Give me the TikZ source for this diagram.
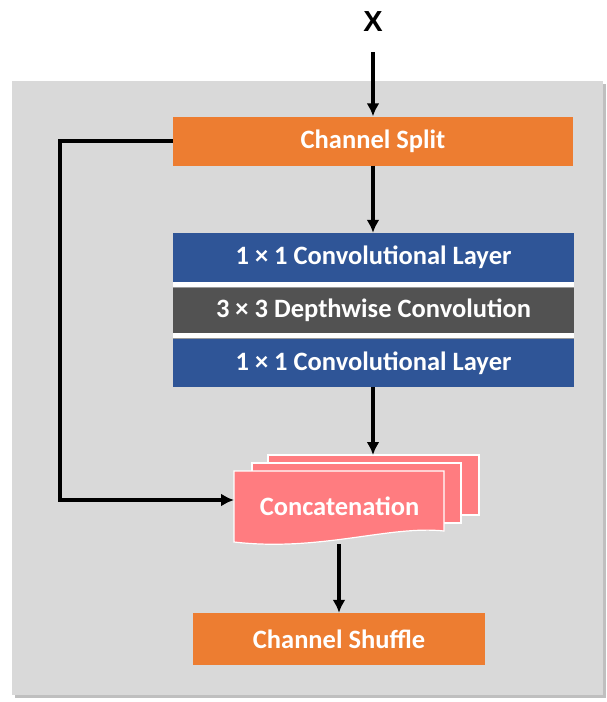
\documentclass[tikz,border=0pt]{standalone}
\usepackage{fontspec}
\setmainfont{Carlito}
\newfontfamily\xfont{Liberation Sans}
\usetikzlibrary{arrows, arrows.meta, calc}

\definecolor{splitorange}{HTML}{ED7D31}
\definecolor{convblue}{HTML}{2F5597}
\definecolor{dwgrey}{HTML}{525252}
\definecolor{concatpink}{HTML}{FF7C80}
\definecolor{panelgrey}{HTML}{D9D9D9}

\tikzset{
  box/.style={minimum width=401pt, minimum height=49pt, inner sep=0pt, text=white,
    font=\fontsize{26.5}{29}\selectfont\bfseries},
  sheet/.style={fill=concatpink, draw=white, line width=1.2pt},
  flow/.style={line width=3.2pt, -{Latex[length=13pt, width=13pt]}},
}

\begin{document}
\begin{tikzpicture}[x=1pt, y=-1pt]
        \useasboundingbox (0,0) rectangle (606,702);
        % grey panel with its shadow
        \fill[black!25] (15,84) rectangle (606,698);
        \fill[panelgrey] (12,81) rectangle (603,695);

        \node[font=\xfont\bfseries\fontsize{29}{30}\selectfont] (x) at (373,22) {X};
        \coordinate (xfoot) at (373,52);

        \node[box, fill=splitorange, minimum width=400pt] (split) at (373,141) {Channel Split};

        % convolution block
        \fill[white] (173,282) rectangle (574,339);
        \node[box, fill=convblue] (conv1) at (373.5,257.5) {1 × 1 Convolutional Layer};
        \node[box, fill=dwgrey, minimum height=45pt] (dw) at (373.5,310.5) {3 × 3 Depthwise Convolution};
        \node[box, fill=convblue, minimum height=48pt] (conv2) at (373.5,363) {1 × 1 Convolutional Layer};
        \draw[black!40, line width=0.8pt] (dw.north west) -- (dw.north east);
        \draw[black!40, line width=0.8pt] (conv2.north west) -- (conv2.north east);

        % concatenation (stacked sheets)
        \draw[sheet] (268,455) rectangle (479,515);
        \draw[sheet] (252,463) rectangle (461,523);
        \draw[sheet] (234,471) -- (444,471) -- (444,531)
            .. controls (390,525) and (320,552) .. (234,542) -- cycle;
        \node[text=white, font=\fontsize{26.5}{29}\selectfont\bfseries] (concat) at (339.5,506) {Concatenation};
        \coordinate (concatL) at (234,500);
        \coordinate (concatT) at (373,455);
        \coordinate (concatB) at (339,544);

        \node[box, fill=splitorange, minimum width=292pt, minimum height=52pt] (shuffle) at (339,639) {Channel Shuffle};

        \draw[flow] (xfoot) -- (split.north -| xfoot);
        \draw[flow] (split.south) -- (conv1.north -| split.south);
        \draw[flow] (conv2.south -| concatT) -- (concatT);
        \draw[flow] (split.west) -- (60,141) |- (concatL);
        \draw[flow] (concatB) -- (shuffle.north -| concatB);
    \end{tikzpicture}
\end{document}
